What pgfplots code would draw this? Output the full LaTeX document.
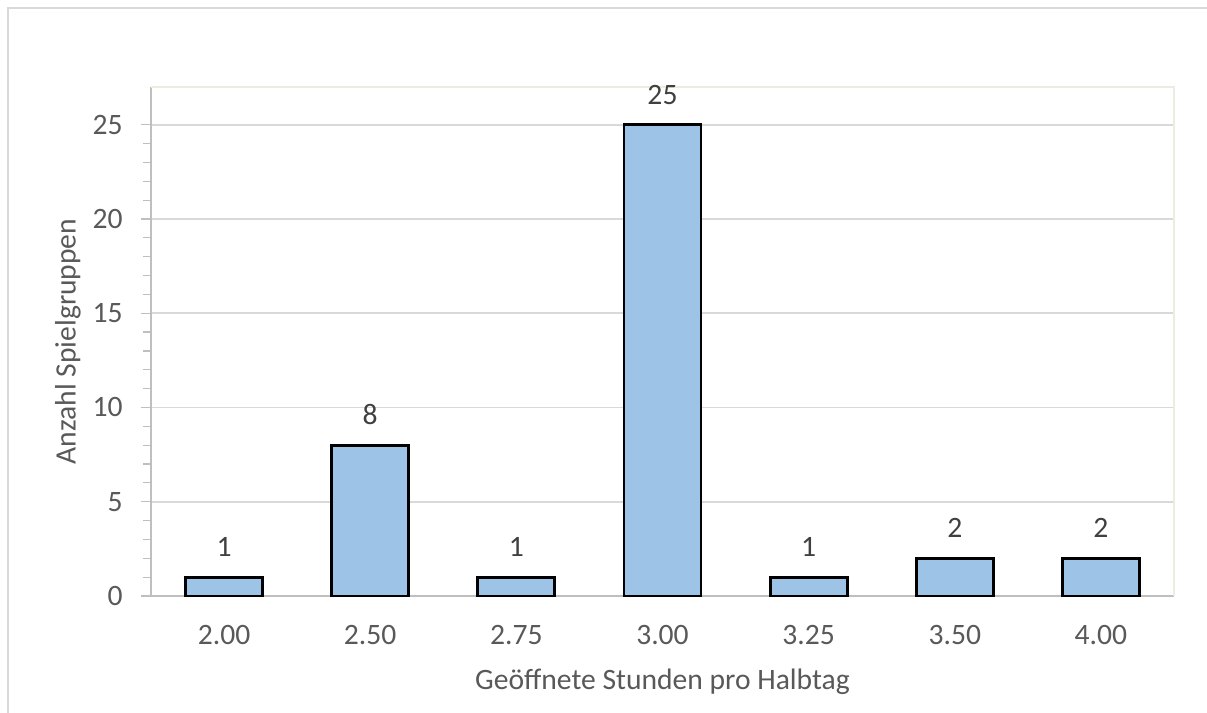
\documentclass[border=0pt]{standalone}
\usepackage{pgfplots}
\pgfplotsset{compat=1.18}
\usepackage{fontspec}
\setmainfont{Carlito}

\definecolor{barfill}{HTML}{9DC3E6}
\definecolor{ticktext}{HTML}{595959}
\definecolor{valtext}{HTML}{404040}
\definecolor{gridgray}{HTML}{D9D9D9}
\definecolor{axisgray}{HTML}{BFBFBF}
\definecolor{framegray}{HTML}{D9D9D9}
\definecolor{plotborder}{HTML}{EEECE1}

\begin{document}
\begin{tikzpicture}
  % overall canvas (1 px = 0.5 pt)
  \path[use as bounding box] (-75.5pt,-58.5pt) rectangle (528pt,298pt);
  % outer chart frame (left and top edges)
  \draw[framegray, line width=0.9pt] (-71.5pt,-60pt) -- (-71.5pt,294pt) -- (530pt,294pt);
  \begin{axis}[
    at={(0pt,0pt)}, anchor=south west,
    scale only axis,
    width=511.5pt, height=254.5pt,
    xmin=-0.5, xmax=6.5,
    ymin=0, ymax=27,
    ytick={0,5,10,15,20,25},
    minor y tick num=4,
    xtick=data,
    xticklabels={2.00,2.50,2.75,3.00,3.25,3.50,4.00},
    axis lines*=left,
    axis line style={axisgray, line width=0.8pt, -},
    ytick pos=left,
    tick align=outside,
    major tick length=5pt,
    minor tick length=4pt,
    ytick style={axisgray, line width=0.6pt},
    minor y tick style={axisgray, line width=0.6pt},
    xtick style={draw=none},
    ymajorgrids,
    major grid style={gridgray, line width=0.8pt},
    /pgf/number format/assume math mode=true,
    tick label style={font=\fontsize{14.8}{17}\selectfont, text=ticktext},
    xticklabel style={inner sep=0pt, anchor=north, yshift=-9.5pt},
    yticklabel style={inner sep=0pt, anchor=east, xshift=-9pt},
    xlabel={Geöffnete Stunden pro Halbtag},
    ylabel={Anzahl Spielgruppen},
    label style={font=\fontsize{14.8}{17}\selectfont, text=ticktext},
    xlabel style={at={(axis description cs:0.5,0)}, anchor=center, yshift=-43pt},
    ylabel style={at={(axis description cs:0,0.5)}, anchor=center, rotate=0, yshift=41.5pt},
    nodes near coords,
    every node near coord/.append style={font=\fontsize{14.8}{17}\selectfont, text=valtext, inner sep=0pt, anchor=south, yshift=9.5pt},
    clip=false,
  ]
    \addplot[ybar, bar width=38.5pt, fill=barfill, draw=black, line width=1.4pt]
      coordinates {(0,1) (1,8) (2,1) (3,25) (4,1) (5,2) (6,2)};
    \draw[plotborder, line width=0.6pt] (rel axis cs:0,1) -- (rel axis cs:1,1) -- (rel axis cs:1,0);
  \end{axis}
\end{tikzpicture}
\end{document}
